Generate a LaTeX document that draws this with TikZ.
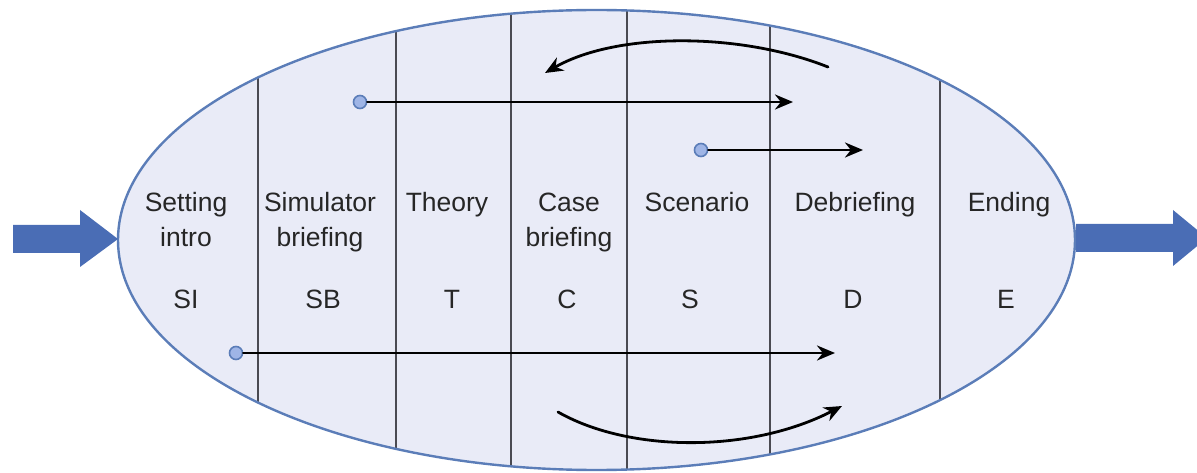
\documentclass[tikz,border=0pt]{standalone}
\usepackage{fontspec}
\setmainfont{Liberation Sans}
\usetikzlibrary{
    arrows.meta,
    positioning
}
\definecolor{ovalfill}{HTML}{E9EBF7}
\definecolor{ovalline}{HTML}{5B7DB8}
\definecolor{bigblue}{HTML}{4A6DB5}
\definecolor{dotfill}{HTML}{9FB5E6}
\definecolor{divider}{HTML}{4A4A52}

\begin{document}
\begin{tikzpicture}[
        x=1pt, y=-1pt,
        >=Stealth,
        oval/.style={
            fill=ovalfill,
            draw=ovalline,
            line width=2.4pt
        },
        bigarrow/.style={
            fill=bigblue
        },
        divide/.style={
            draw=divider,
            line width=1.4pt
        },
        dot/.style={
            circle,
            fill=dotfill,
            draw=ovalline,
            line width=1.6pt,
            minimum size=13pt,
            inner sep=0pt
        },
        flow/.style={
            line width=2.8pt,
            line cap=round,
            -{Stealth[length=18pt, width=15pt]}
        },
        lbl/.style={
            anchor=base,
            align=center,
            text=black!85,
            font=\fontsize{26.5}{35}\selectfont
        }
    ]
        \clip (0,0) rectangle (1197,473);

        % oval and its sections
        \fill[ovalfill] (596.5,240) ellipse [x radius=478.5, y radius=230];
        \begin{scope}
            \clip (596.5,240) ellipse [x radius=478.5, y radius=230];
            \foreach \xx in {258,396,511,627,770,940}
                \draw[divide] (\xx,0) -- (\xx,473);
        \end{scope}
        \draw[oval, fill=none] (596.5,240) ellipse [x radius=478.5, y radius=230];

        % in and out
        \fill[bigarrow] (13,225) -- (80,225) -- (80,210) -- (118,239)
            -- (80,267) -- (80,253) -- (13,253) -- cycle;
        \fill[bigarrow] (1076,224) -- (1173,224) -- (1173,210) -- (1207,238)
            -- (1173,266) -- (1173,252) -- (1076,252) -- cycle;

        % phases (two-line labels sit on their last line)
        \node[lbl] (si) at (186,247) {Setting\\intro};
        \node[lbl] (sb) at (320,247) {Simulator\\briefing};
        \node[lbl] (t) at (447,212) {Theory};
        \node[lbl] (c) at (569,247) {Case\\briefing};
        \node[lbl] (s) at (697,212) {Scenario};
        \node[lbl] (d) at (855,212) {Debriefing};
        \node[lbl] (e) at (1009,212) {Ending};

        \node[lbl] (siab) at (186,308) {SI};
        \node[lbl] (sbab) at (323,308) {SB};
        \node[lbl] (tab) at (452,308) {T};
        \node[lbl] (cab) at (567,308) {C};
        \node[lbl] (sab) at (690,308) {S};
        \node[lbl] (dab) at (853,308) {D};
        \node[lbl] (eab) at (1006,308) {E};

        % jumps
        \node[dot] (j1) at (360,102) {};
        \node[dot] (j2) at (701,150) {};
        \node[dot] (j3) at (236,353) {};
        \coordinate (k1) at (793,102);
        \coordinate (k2) at (863,150);
        \coordinate (k3) at (835,353);
        \draw[flow] (j1) -- (k1);
        \draw[flow] (j2) -- (k2);
        \draw[flow] (j3) -- (k3);

        % loops
        \coordinate (back1) at (828,67);
        \coordinate (back2) at (545,73);
        \coordinate (fwd1) at (558,412);
        \coordinate (fwd2) at (842,406);
        \draw[flow] (back1) .. controls (740,32) and (616,32) .. (back2);
        \draw[flow] (fwd1) .. controls (630,453) and (751,453) .. (fwd2);
    \end{tikzpicture}
\end{document}
